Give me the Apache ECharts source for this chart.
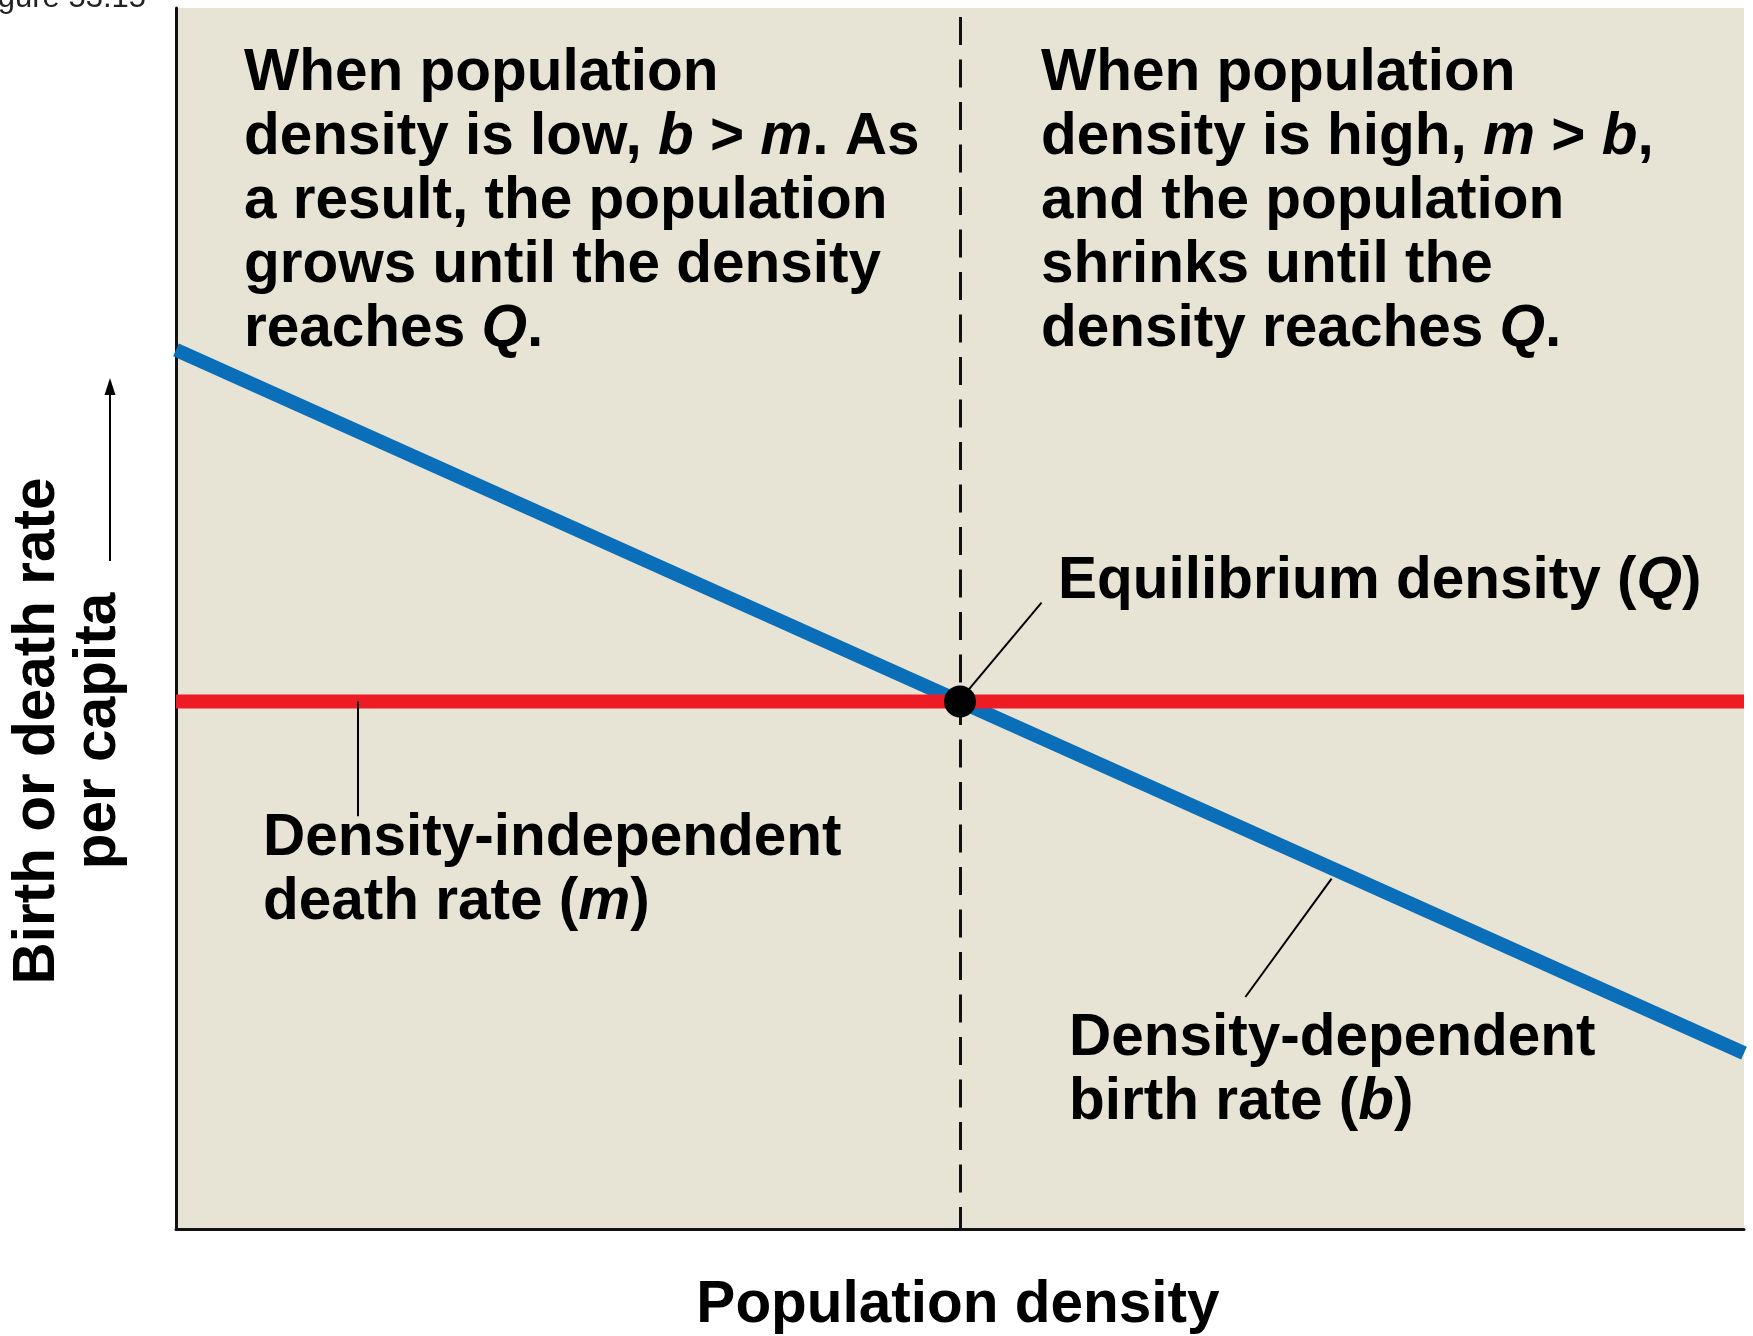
<!DOCTYPE html>
<html>
<head>
<meta charset="utf-8">
<script src="https://cdn.jsdelivr.net/npm/echarts@6/dist/echarts.min.js"></script>
<style>
  html, body { margin: 0; padding: 0; background: #ffffff; }
  #chart { width: 1753px; height: 1336px; }
</style>
</head>
<body>
<div id="chart"></div>
<script>
// ---- data (axis units 0..100 on both axes, no ticks shown) ----
var density = [0, 100];              // population density (x)
var birthRate = [72, 14.4];          // density-dependent birth rate b
var deathRate = [43.2, 43.2];        // density-independent death rate m
var equilibrium = [50, 43.2];        // Q
var qLine = [[50, 100], [50, 0]];    // dashed vertical through Q
var eqLeader = [[50.5, 44.1], [55.2, 51.3]];
var deathLeader = [[11.6, 43.2], [11.6, 33.8]];
var birthLeader = [[73.7, 28.7], [68.2, 19.0]];

var xTitle = 'Population density';
var yTitle1 = 'Birth or death rate';
var yTitle2 = 'per capita';
var figLabel = 'Figure 53.15';
var noteLow = 'When population\ndensity is low, {i|b} > {i|m}. As\na result, the population\ngrows until the density\nreaches {i|Q}.';
var noteHigh = 'When population\ndensity is high, {i|m} > {i|b},\nand the population\nshrinks until the\ndensity reaches {i|Q}.';
var eqText = 'Equilibrium density ({i|Q})';
var deathText = 'Density-independent\ndeath rate ({i|m})';
var birthText = 'Density-dependent\nbirth rate ({i|b})';

// ---- styling ----
var FONT = '"Liberation Sans", Arial, Helvetica, sans-serif';
var FS = 58.5, LH = 64;
var BLUE = '#0B6EB8', RED = '#ED1C24', BG = '#E8E4D5';
var richI = { i: { fontSize: FS, fontWeight: 'bold', fontStyle: 'italic', fontFamily: FONT, lineHeight: LH, fill: '#000' } };

function zip(xs, ys) { return xs.map(function (x, k) { return [x, ys[k]]; }); }
function label(txt, x, y, align) {
  return {
    type: 'text', x: x, y: y, z: 100,
    style: {
      text: txt, fontSize: FS, fontWeight: 'bold', fontFamily: FONT, lineHeight: LH,
      fill: '#000', align: align || 'left', verticalAlign: 'top', rich: richI
    }
  };
}
function leader(pts) {
  return {
    type: 'line', silent: true, data: [], z: 5,
    markLine: {
      silent: true, symbol: 'none', animation: false,
      label: { show: false },
      lineStyle: { color: '#000', width: 2, type: 'solid' },
      data: [[{ coord: pts[0] }, { coord: pts[1] }]]
    }
  };
}

var chart = echarts.init(document.getElementById('chart'), null, { renderer: 'canvas' });
chart.setOption({
  animation: false,
  backgroundColor: '#ffffff',
  grid: { left: 176, right: 9, top: 8, bottom: 107, show: true, backgroundColor: BG, borderWidth: 0 },
  xAxis: {
    type: 'value', min: 0, max: 100,
    axisLine: { show: true, onZero: false, lineStyle: { color: '#111', width: 3 } },
    axisTick: { show: false }, axisLabel: { show: false }, splitLine: { show: false }
  },
  yAxis: {
    type: 'value', min: 0, max: 100,
    axisLine: { show: true, onZero: false, lineStyle: { color: '#111', width: 3 } },
    axisTick: { show: false }, axisLabel: { show: false }, splitLine: { show: false }
  },
  series: [
    {
      type: 'line', data: [], z: 3,
      markLine: {
        silent: true, symbol: 'none', animation: false, label: { show: false },
        lineStyle: { color: '#111', width: 3, type: [28, 14.5], dashOffset: 33.5 },
        data: [[{ coord: qLine[0] }, { coord: qLine[1] }]]
      }
    },
    {
      name: 'b', type: 'line', data: zip(density, birthRate), showSymbol: false, z: 4,
      lineStyle: { color: BLUE, width: 14, cap: 'butt' }
    },
    {
      name: 'm', type: 'line', data: zip(density, deathRate), showSymbol: false, z: 4,
      lineStyle: { color: RED, width: 14, cap: 'butt' }
    },
    leader(eqLeader),
    leader(deathLeader),
    leader(birthLeader),
    {
      name: 'Q', type: 'scatter', data: [equilibrium], symbol: 'circle', symbolSize: 32, z: 10,
      itemStyle: { color: '#000', opacity: 1 }
    }
  ],
  graphic: [
    label(noteLow, 244, 41.5),
    label(noteHigh, 1041, 41.5),
    label(eqText, 1058, 549.5),
    label(deathText, 263, 806.5),
    label(birthText, 1069, 1006.5),
    {
      type: 'text', x: 958, y: 1305.5,
      style: { text: xTitle, fontSize: FS, fontWeight: 'bold', fontFamily: FONT, fill: '#000', align: 'center', verticalAlign: 'middle' }
    },
    {
      type: 'text', x: 37.5, y: 731, rotation: Math.PI / 2,
      style: { text: yTitle1, fontSize: FS, fontWeight: 'bold', fontFamily: FONT, fill: '#000', align: 'center', verticalAlign: 'middle' }
    },
    {
      type: 'text', x: 98.5, y: 731, rotation: Math.PI / 2,
      style: { text: yTitle2, fontSize: FS, fontWeight: 'bold', fontFamily: FONT, fill: '#000', align: 'center', verticalAlign: 'middle' }
    },
    {
      type: 'line', shape: { x1: 110, y1: 561, x2: 110, y2: 392 },
      style: { stroke: '#000', lineWidth: 2 }
    },
    {
      type: 'polygon', shape: { points: [[110, 378], [104.5, 395], [115.5, 395]] },
      style: { fill: '#000' }
    },
    {
      type: 'text', x: 146, y: -2,
      style: { text: figLabel, fontSize: 31, fontFamily: FONT, fill: '#222', align: 'right', verticalAlign: 'middle' }
    }
  ]
});
</script>
</body>
</html>
